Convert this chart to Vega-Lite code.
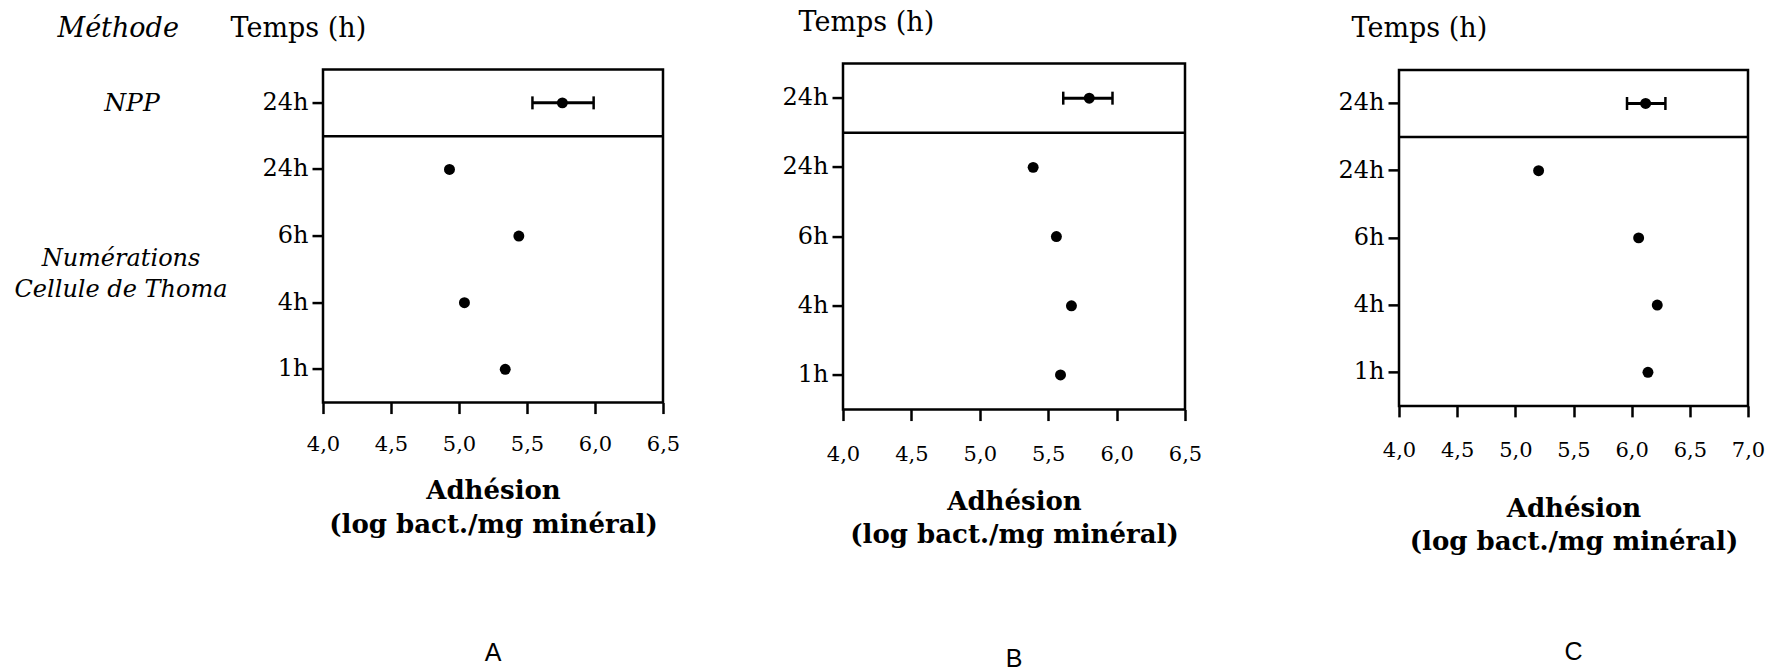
{
  "$schema": "https://vega.github.io/schema/vega-lite/v6.json",
  "background": "white",
  "padding": {"left": 14, "top": 7, "right": 0, "bottom": 0},
  "config": {
    "view": {"stroke": "black", "strokeWidth": 2.5},
    "font": "DejaVu Serif",
    "axis": {"domain": false, "grid": false, "tickColor": "black", "tickWidth": 2.5, "labelColor": "black", "titleColor": "black", "labelFont": "DejaVu Serif", "titleFont": "DejaVu Serif"},
    "title": {"color": "black"}
  },
  "datasets": {
    "pts": [
      {"panel": "A", "cat": "NPP 24h", "value": 5.76, "lo": 5.54, "hi": 5.99},
      {"panel": "A", "cat": "24h", "value": 4.93},
      {"panel": "A", "cat": "6h", "value": 5.44},
      {"panel": "A", "cat": "4h", "value": 5.04},
      {"panel": "A", "cat": "1h", "value": 5.34},
      {"panel": "B", "cat": "NPP 24h", "value": 5.80, "lo": 5.61, "hi": 5.97},
      {"panel": "B", "cat": "24h", "value": 5.39},
      {"panel": "B", "cat": "6h", "value": 5.56},
      {"panel": "B", "cat": "4h", "value": 5.67},
      {"panel": "B", "cat": "1h", "value": 5.59},
      {"panel": "C", "cat": "NPP 24h", "value": 6.12, "lo": 5.96, "hi": 6.29},
      {"panel": "C", "cat": "24h", "value": 5.20},
      {"panel": "C", "cat": "6h", "value": 6.06},
      {"panel": "C", "cat": "4h", "value": 6.22},
      {"panel": "C", "cat": "1h", "value": 6.14}
    ],
    "meth": [
      {"label": "NPP", "cat": "NPP 24h", "pos": "mid"},
      {"label": "Numérations\nCellule de Thoma", "cat": "6h", "pos": "end"}
    ]
  },
  "hconcat": [
    {
      "spacing": 99,
      "center": true,
      "hconcat": [
        {
          "bounds": "flush",
          "spacing": 132,
          "hconcat": [
            {
              "width": 140,
              "height": 333,
              "view": {"stroke": null},
              "data": {"name": "meth"},
              "layer": [
                {
                  "transform": [{"filter": "datum.pos == 'mid'"}],
                  "mark": {"type": "text", "font": "DejaVu Serif", "fontStyle": "italic", "fontSize": 25, "color": "black", "dx": 11},
                  "encoding": {
                    "y": {"field": "cat", "type": "nominal", "scale": {"type": "band", "domain": ["NPP 24h", "24h", "6h", "4h", "1h"], "paddingInner": 0, "paddingOuter": 0},
                      "axis": {"title": "Méthode", "titleAngle": 0, "titleAlign": "left", "titleBaseline": "alphabetic", "titleX": 6, "titleY": -33, "titleFontStyle": "italic", "titleFontSize": 27, "titleFontWeight": "normal", "labels": false, "ticks": false, "domain": false}},
                    "text": {"field": "label"}
                  }
                },
                {
                  "transform": [{"filter": "datum.pos == 'end'"}],
                  "mark": {"type": "text", "font": "DejaVu Serif", "fontStyle": "italic", "fontSize": 24, "color": "black", "lineBreak": "\n", "lineHeight": 31, "dy": -10},
                  "encoding": {
                    "y": {"field": "cat", "type": "nominal", "bandPosition": 1, "scale": {"type": "band", "domain": ["NPP 24h", "24h", "6h", "4h", "1h"], "paddingInner": 0, "paddingOuter": 0}},
                    "text": {"field": "label"}
                  }
                }
              ]
            },
            {
              "width": 340,
              "height": 333,
              "title": {"text": "A", "orient": "bottom", "font": "Liberation Sans", "fontSize": 25, "fontWeight": "normal", "color": "black", "offset": 103},
              "data": {"name": "pts"},
              "transform": [{"filter": "datum.panel == 'A'"}],
              "layer": [
                {
                  "mark": {"type": "circle", "color": "black", "size": 120, "opacity": 1},
                  "encoding": {
                    "x": {"field": "value", "type": "quantitative", "scale": {"domain": [4, 6.5], "nice": false, "zero": false},
                      "axis": {"values": [4, 4.25, 4.5, 4.75, 5, 5.25, 5.5, 5.75, 6, 6.25, 6.5],
                        "labelExpr": "datum.value * 2 == round(datum.value * 2) ? replace(format(datum.value, '.1f'), '.', ',') : ''",
                        "labelFontSize": 21, "labelPadding": 20, "labelFlush": false, "labelOverlap": false,
                        "tickSize": {"condition": {"test": "datum.value * 2 == round(datum.value * 2)", "value": 11}, "value": 6},
                        "title": ["Adhésion", "(log bact./mg minéral)"], "titleFontWeight": "bold", "titleFontSize": 26, "titleLineHeight": 34, "titleBaseline": "alphabetic", "titleY": 96}},
                    "y": {"field": "cat", "type": "nominal", "scale": {"type": "band", "domain": ["NPP 24h", "24h", "6h", "4h", "1h"], "paddingInner": 0, "paddingOuter": 0},
                      "axis": {"title": "Temps (h)", "titleAngle": 0, "titleAlign": "left", "titleBaseline": "alphabetic", "titleX": -93, "titleY": -33, "titleFontSize": 27, "titleFontWeight": "normal",
                        "labelExpr": "datum.value == 'NPP 24h' ? '24h' : datum.value", "labelFontSize": 24, "labelPadding": 4, "tickSize": 11, "labelBaseline": "middle"}}
                  }
                },
                {
                  "transform": [{"filter": "datum.cat == 'NPP 24h'"}],
                  "mark": {"type": "rule", "color": "black", "strokeWidth": 2.5},
                  "encoding": {
                    "y": {"field": "cat", "type": "nominal", "bandPosition": 1}
                  }
                },
                {
                  "transform": [{"filter": "datum.lo != null"}],
                  "mark": {"type": "rule", "color": "black", "strokeWidth": 3},
                  "encoding": {
                    "x": {"field": "lo", "type": "quantitative"},
                    "x2": {"field": "hi"},
                    "y": {"field": "cat", "type": "nominal"}
                  }
                },
                {
                  "transform": [{"filter": "datum.lo != null"}],
                  "mark": {"type": "tick", "color": "black", "size": 13, "thickness": 2.5, "opacity": 1},
                  "encoding": {
                    "x": {"field": "lo", "type": "quantitative"},
                    "y": {"field": "cat", "type": "nominal"}
                  }
                },
                {
                  "transform": [{"filter": "datum.lo != null"}],
                  "mark": {"type": "tick", "color": "black", "size": 13, "thickness": 2.5, "opacity": 1},
                  "encoding": {
                    "x": {"field": "hi", "type": "quantitative"},
                    "y": {"field": "cat", "type": "nominal"}
                  }
                }
              ]
            }
          ]
        },
        {
          "width": 342,
          "height": 346,
          "title": {"text": "B", "orient": "bottom", "font": "Liberation Sans", "fontSize": 25, "fontWeight": "normal", "color": "black", "offset": 99},
          "data": {"name": "pts"},
          "transform": [{"filter": "datum.panel == 'B'"}],
          "layer": [
            {
              "mark": {"type": "circle", "color": "black", "size": 120, "opacity": 1},
              "encoding": {
                "x": {"field": "value", "type": "quantitative", "scale": {"domain": [4, 6.5], "nice": false, "zero": false},
                  "axis": {"values": [4, 4.25, 4.5, 4.75, 5, 5.25, 5.5, 5.75, 6, 6.25, 6.5],
                    "labelExpr": "datum.value * 2 == round(datum.value * 2) ? replace(format(datum.value, '.1f'), '.', ',') : ''",
                    "labelFontSize": 21, "labelPadding": 23, "labelFlush": false, "labelOverlap": false,
                    "tickSize": {"condition": {"test": "datum.value * 2 == round(datum.value * 2)", "value": 11}, "value": 6},
                    "title": ["Adhésion", "(log bact./mg minéral)"], "titleFontWeight": "bold", "titleFontSize": 26, "titleLineHeight": 33, "titleBaseline": "alphabetic", "titleY": 100}},
                "y": {"field": "cat", "type": "nominal", "scale": {"type": "band", "domain": ["NPP 24h", "24h", "6h", "4h", "1h"], "paddingInner": 0, "paddingOuter": 0},
                  "axis": {"title": "Temps (h)", "titleAngle": 0, "titleAlign": "left", "titleBaseline": "alphabetic", "titleX": -45, "titleY": -33, "titleFontSize": 27, "titleFontWeight": "normal",
                    "labelExpr": "datum.value == 'NPP 24h' ? '24h' : datum.value", "labelFontSize": 24, "labelPadding": 4, "tickSize": 11, "labelBaseline": "middle"}}
              }
            },
            {
              "transform": [{"filter": "datum.cat == 'NPP 24h'"}],
              "mark": {"type": "rule", "color": "black", "strokeWidth": 2.5},
              "encoding": {
                "y": {"field": "cat", "type": "nominal", "bandPosition": 1}
              }
            },
            {
              "transform": [{"filter": "datum.lo != null"}],
              "mark": {"type": "rule", "color": "black", "strokeWidth": 3},
              "encoding": {
                "x": {"field": "lo", "type": "quantitative"},
                "x2": {"field": "hi"},
                "y": {"field": "cat", "type": "nominal"}
              }
            },
            {
              "transform": [{"filter": "datum.lo != null"}],
              "mark": {"type": "tick", "color": "black", "size": 13, "thickness": 2.5, "opacity": 1},
              "encoding": {
                "x": {"field": "lo", "type": "quantitative"},
                "y": {"field": "cat", "type": "nominal"}
              }
            },
            {
              "transform": [{"filter": "datum.lo != null"}],
              "mark": {"type": "tick", "color": "black", "size": 13, "thickness": 2.5, "opacity": 1},
              "encoding": {
                "x": {"field": "hi", "type": "quantitative"},
                "y": {"field": "cat", "type": "nominal"}
              }
            }
          ]
        }
      ]
    },
    {
      "width": 349,
      "height": 336,
      "title": {"text": "C", "orient": "bottom", "font": "Liberation Sans", "fontSize": 25, "fontWeight": "normal", "color": "black", "offset": 85},
      "data": {"name": "pts"},
      "transform": [{"filter": "datum.panel == 'C'"}],
      "layer": [
        {
          "mark": {"type": "circle", "color": "black", "size": 120, "opacity": 1},
          "encoding": {
            "x": {"field": "value", "type": "quantitative", "scale": {"domain": [4, 7], "nice": false, "zero": false},
              "axis": {"values": [4, 4.25, 4.5, 4.75, 5, 5.25, 5.5, 5.75, 6, 6.25, 6.5, 6.75, 7],
                "labelExpr": "datum.value * 2 == round(datum.value * 2) ? replace(format(datum.value, '.1f'), '.', ',') : ''",
                "labelFontSize": 21, "labelPadding": 23, "labelFlush": false, "labelOverlap": false,
                "tickSize": {"condition": {"test": "datum.value * 2 == round(datum.value * 2)", "value": 11}, "value": 6},
                "title": ["Adhésion", "(log bact./mg minéral)"], "titleFontWeight": "bold", "titleFontSize": 26, "titleLineHeight": 33, "titleBaseline": "alphabetic", "titleY": 111}},
            "y": {"field": "cat", "type": "nominal", "scale": {"type": "band", "domain": ["NPP 24h", "24h", "6h", "4h", "1h"], "paddingInner": 0, "paddingOuter": 0},
              "axis": {"title": "Temps (h)", "titleAngle": 0, "titleAlign": "left", "titleBaseline": "alphabetic", "titleX": -48, "titleY": -33, "titleFontSize": 27, "titleFontWeight": "normal",
                "labelExpr": "datum.value == 'NPP 24h' ? '24h' : datum.value", "labelFontSize": 24, "labelPadding": 4, "tickSize": 11, "labelBaseline": "middle"}}
          }
        },
        {
          "transform": [{"filter": "datum.cat == 'NPP 24h'"}],
          "mark": {"type": "rule", "color": "black", "strokeWidth": 2.5},
          "encoding": {
            "y": {"field": "cat", "type": "nominal", "bandPosition": 1}
          }
        },
        {
          "transform": [{"filter": "datum.lo != null"}],
          "mark": {"type": "rule", "color": "black", "strokeWidth": 3},
          "encoding": {
            "x": {"field": "lo", "type": "quantitative"},
            "x2": {"field": "hi"},
            "y": {"field": "cat", "type": "nominal"}
          }
        },
        {
          "transform": [{"filter": "datum.lo != null"}],
          "mark": {"type": "tick", "color": "black", "size": 13, "thickness": 2.5, "opacity": 1},
          "encoding": {
            "x": {"field": "lo", "type": "quantitative"},
            "y": {"field": "cat", "type": "nominal"}
          }
        },
        {
          "transform": [{"filter": "datum.lo != null"}],
          "mark": {"type": "tick", "color": "black", "size": 13, "thickness": 2.5, "opacity": 1},
          "encoding": {
            "x": {"field": "hi", "type": "quantitative"},
            "y": {"field": "cat", "type": "nominal"}
          }
        }
      ]
    }
  ],
  "spacing": 133,
  "center": true
}
